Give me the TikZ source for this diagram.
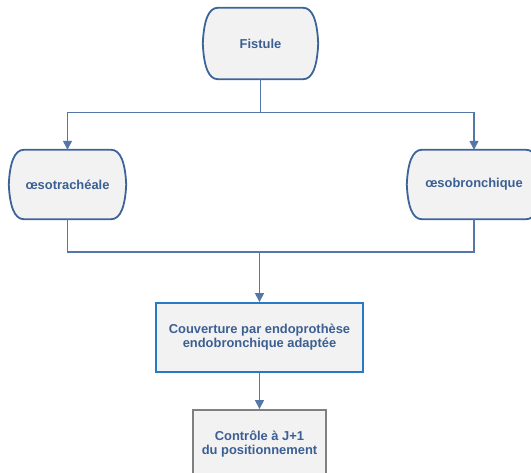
\documentclass[tikz,border=0pt]{standalone}
\usepackage{fontspec}
\newfontfamily\chartfont{Liberation Sans}
\usetikzlibrary{arrows.meta,backgrounds}

\definecolor{inkblue}{RGB}{60,95,147}
\definecolor{edgeblue}{RGB}{61,99,152}
\definecolor{wireblue}{RGB}{84,118,168}
\definecolor{brightblue}{RGB}{38,122,200}
\definecolor{boxgray}{RGB}{128,128,128}
\definecolor{boxfill}{RGB}{242,242,242}

\begin{document}
\begin{tikzpicture}[x=1pt, y=-1pt,
    boxtext/.style={font=\chartfont\bfseries\fontsize{12.9}{14}\selectfont,
        text=inkblue, align=center, inner sep=0pt},
    termedge/.style={draw=edgeblue, fill=boxfill, line width=1.8pt},
    wire/.style={draw=wireblue, line width=1.3pt},
    arrow/.style={wire, -{Triangle[width=9pt,length=9pt]}}]

\useasboundingbox (0,0) rectangle (531,473);

% draw the nodes
\node[boxtext, minimum width=115pt, minimum height=71pt] (fist) at (260.5,43.5) {Fistule};
\node[boxtext, minimum width=117pt, minimum height=69pt] (oeso) at (67.5,184.5) {œsotrachéale};
\node[boxtext, minimum width=134pt, minimum height=69pt] (bron) at (474,184.5) {œsobronchique};
\node[boxtext, minimum width=207pt, minimum height=69pt, fill=boxfill,
      draw=brightblue, line width=1.8pt] (cover) at (259.5,337.5)
      {Couverture par endoprothèse\\endobronchique adaptée};
\node[boxtext, minimum width=133pt, minimum height=69pt, fill=boxfill,
      draw=boxgray, line width=1.8pt] (check) at (259.5,444.5)
      {Contrôle à J+1\\du positionnement};

% draw the rounded outlines behind the text
\begin{pgfonlayer}{background}
\foreach \n in {fist,oeso,bron}
{
    \draw[termedge] ([xshift=15pt]\n.north west) -- ([xshift=-15pt]\n.north east)
        .. controls ([xshift=-6pt]\n.north east) and ([xshift=-1pt,yshift=-12pt]\n.north east) .. (\n.east)
        .. controls ([xshift=-1pt,yshift=12pt]\n.south east) and ([xshift=-6pt]\n.south east) .. ([xshift=-15pt]\n.south east)
        -- ([xshift=15pt]\n.south west)
        .. controls ([xshift=6pt]\n.south west) and ([xshift=1pt,yshift=12pt]\n.south west) .. (\n.west)
        .. controls ([xshift=1pt,yshift=-12pt]\n.north west) and ([xshift=6pt]\n.north west) .. cycle;
}
\end{pgfonlayer}

% split and join
\draw[arrow] (fist.south) -- ++(0,33) -| (oeso.north);
\draw[arrow] (fist.south) -- ++(0,33) -| (bron.north);
\coordinate (join) at (259.5,252);
\draw[wire] (oeso.south) |- (join) -| (bron.south);
\draw[arrow] (join) -- (cover.north);
\draw[arrow] (cover.south) -- (check.north);

\end{tikzpicture}
\end{document}
